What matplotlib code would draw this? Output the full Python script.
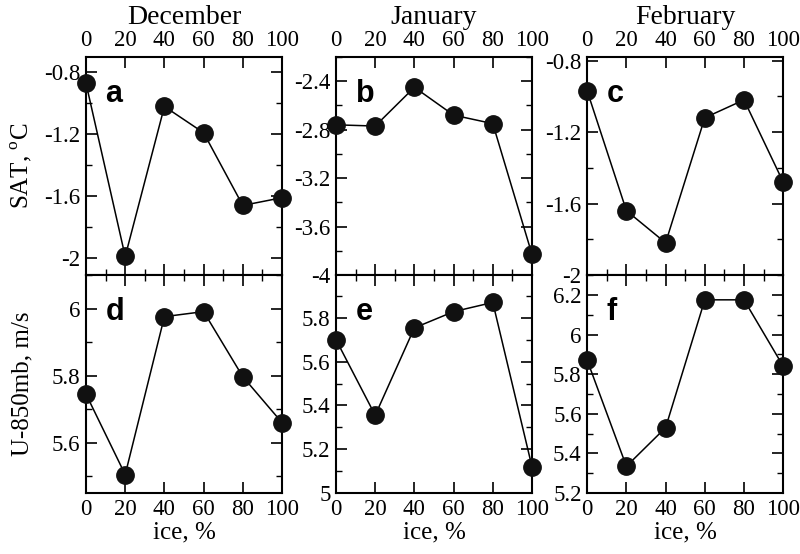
import numpy as np
import matplotlib
matplotlib.use("Agg")
import matplotlib.pyplot as plt
from matplotlib.ticker import MultipleLocator

plt.rcParams["font.family"] = ["Liberation Serif", "DejaVu Serif"]
plt.rcParams["mathtext.fontset"] = "custom"
plt.rcParams["mathtext.rm"] = "Liberation Serif"

ice = [0, 20, 40, 60, 80, 100]
months = ["December", "January", "February"]

# SAT, degC
sat_dec = [-0.87, -1.99, -1.02, -1.19, -1.66, -1.61]
sat_jan = [-2.76, -2.77, -2.45, -2.68, -2.75, -3.83]
sat_feb = [-0.97, -1.64, -1.82, -1.12, -1.02, -1.48]

# U-850mb, m/s
u_dec = [5.745, 5.505, 5.976, 5.991, 5.797, 5.66]
u_jan = [5.70, 5.355, 5.754, 5.828, 5.87, 5.12]
u_feb = [5.87, 5.335, 5.53, 6.175, 6.175, 5.84]

sat = [sat_dec, sat_jan, sat_feb]
uwind = [u_dec, u_jan, u_feb]
letters = [["a", "b", "c"], ["d", "e", "f"]]

sat_lims = [(-2.11, -0.7), (-4.0, -2.2), (-2.0, -0.78)]
u_lims = [(5.45, 6.1), (5.0, 5.995), (5.2, 6.3)]
sat_major = [0.4, 0.4, 0.4]
u_major = [0.2, 0.2, 0.2]

fig = plt.figure(figsize=(8, 5.54), dpi=100)
lefts = [0.1075, 0.42, 0.734]
w = 0.245
h = 0.3935

for j in range(3):
    for i in range(2):
        bottom = 0.5036 if i == 0 else 0.110
        ax = fig.add_axes([lefts[j], bottom, w, h])
        vals = sat[j] if i == 0 else uwind[j]
        ax.plot(ice, vals, "-", color="black", lw=1.1, marker="o",
                ms=12.5, mfc="#111111", mec="#111111", clip_on=False, zorder=3)
        ax.set_xlim(0, 100)
        ax.set_ylim(*(sat_lims[j] if i == 0 else u_lims[j]))
        ax.xaxis.set_major_locator(MultipleLocator(20))
        ax.xaxis.set_minor_locator(MultipleLocator(10))
        maj = sat_major[j] if i == 0 else u_major[j]
        ax.yaxis.set_major_locator(MultipleLocator(maj))
        ax.yaxis.set_minor_locator(MultipleLocator(maj / 2))
        ax.yaxis.set_major_formatter(plt.FuncFormatter(lambda v, p: "%g" % round(v, 2)))
        for s in ax.spines.values():
            s.set_linewidth(1.5)
        ax.tick_params(which="major", direction="in", length=8, width=1.2,
                       labelsize=16.5, left=True, right=True, top=True, bottom=True, pad=4)
        ax.tick_params(which="minor", direction="in", length=4, width=1.0,
                       left=True, right=True)
        if i == 0:
            ax.tick_params(labeltop=True, labelbottom=False)
            ax.tick_params(which="minor", top=False, bottom=True)
            ax.set_title(months[j], fontsize=20, pad=3)
        else:
            ax.tick_params(which="minor", top=True, bottom=False)
            ax.set_xlabel("ice, %", fontsize=18, labelpad=1)
        ax.text(0.10, 0.83, letters[i][j], transform=ax.transAxes,
                fontsize=22, fontweight="bold", family="Liberation Sans",
                ha="left", va="center")
        if j == 0:
            if i == 0:
                ax.set_ylabel(r"SAT, $^{\mathrm{o}}$C", fontsize=18, labelpad=7)
            else:
                ax.set_ylabel("U-850mb, m/s", fontsize=18, labelpad=13)

fig.savefig("out.png", dpi=100)
